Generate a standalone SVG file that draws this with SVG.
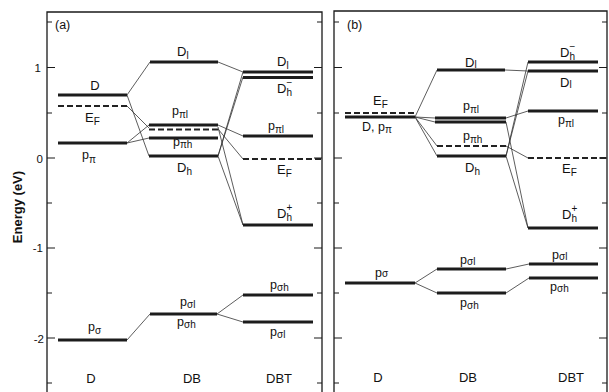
<svg xmlns="http://www.w3.org/2000/svg" width="609" height="392" viewBox="0 0 609 392">
<style>
.lv{stroke:#1c1c1c;stroke-width:3;fill:none}
.ef{stroke:#222;stroke-width:2.2;stroke-dasharray:6 3;fill:none}
.cn{stroke:#333;stroke-width:0.8;fill:none}
.fr{stroke:#1a1a1a;stroke-width:1.3;fill:none}
.tk{stroke:#1a1a1a;stroke-width:1.1;fill:none}
text{font-family:"Liberation Sans",Arial,Helvetica,sans-serif;fill:#111}
.lb{font-size:13px}
.pl{font-size:12.5px}
.sb{font-size:10px}
.ax{font-size:11.5px}
.yl{font-size:13px;font-weight:bold}
.cat{font-size:13px;text-anchor:middle}
</style>
<rect width="609" height="392" fill="#fff"/>
<g id="frames">
<path class="fr" d="M47,400V12H322V400"/>
<path class="fr" d="M334,400V11H607V400"/>
<path class="tk" d="M47,22h5M47,67.5h8M47,113h5M47,158h8M47,203h5M47,248h8M47,293h5M47,338h8M47,383h5"/>
<path class="tk" d="M322,22h-5M322,67.5h-8M322,113h-5M322,158h-8M322,203h-5M322,248h-8M322,293h-5M322,338h-8M322,383h-5"/>
<path class="tk" d="M334,22h5M334,67.5h8M334,113h5M334,158h8M334,203h5M334,248h8M334,293h5M334,338h8M334,383h5"/>
<path class="tk" d="M607,22h-5M607,67.5h-8M607,113h-5M607,158h-8M607,203h-5M607,248h-8M607,293h-5M607,338h-8M607,383h-5"/>
<text class="ax" x="41" y="72" text-anchor="end">1</text>
<text class="ax" x="43" y="163" text-anchor="end">0</text>
<text class="ax" x="43" y="252" text-anchor="end">-1</text>
<text class="ax" x="44" y="343" text-anchor="end">-2</text>
<text class="yl" transform="translate(22,207) rotate(-90)" text-anchor="middle">Energy (eV)</text>
<text x="55" y="29" font-size="12.5">(a)</text>
<text x="347" y="29" font-size="12.5">(b)</text>
<text class="cat" x="91" y="383">D</text>
<text class="cat" x="192" y="383">DB</text>
<text class="cat" x="279" y="383">DBT</text>
<text class="cat" x="378" y="382">D</text>
<text class="cat" x="468" y="382">DB</text>
<text class="cat" x="571" y="382">DBT</text>
</g>
<g id="connectors">
<path class="cn" d="M127,95L150,62M127,95L149,156M127,106L149,128M127,143L149,125M127,143L149,138"/>
<path class="cn" d="M218,62L243,72M218,156L243,72M218,156L243,77M218,125L243,136M218,129L243,159M218,127L243,225M218,156L243,225"/>
<path class="cn" d="M127,340L150,314M217,314L243,295M217,314L243,322"/>
<path class="cn" d="M415,117L437,70M415,117L435,118M415,117L435,122M415,117L437,146M415,117L437,156"/>
<path class="cn" d="M505,70L528,71M506,156L528,62M506,156L528,71M506,118L528,111M506,146L528,158M506,122L528,228M506,156L528,228"/>
<path class="cn" d="M415,283L437,269M415,283L437,293M506,269L529,264M506,293L529,278"/>
</g>
<g id="a-D">
<path class="lv" d="M58,95H127"/>
<text class="lb" x="95" y="90" text-anchor="middle">D</text>
</g>
<g id="a-EF">
<path class="ef" d="M58,106H127"/>
<text class="lb" x="85" y="122">E<tspan class="sb" dy="3">F</tspan></text>
</g>
<g id="a-ppi">
<path class="lv" d="M58,143H127"/>
<text class="pl" x="82" y="159">p<tspan class="sb" dy="4" font-size="11">π</tspan></text>
</g>
<g id="a-psigma">
<path class="lv" d="M58,340H127"/>
<text class="pl" x="88" y="331">p<tspan class="sb" dy="3" font-size="11">σ</tspan></text>
</g>
<g id="a-DB-Dl">
<path class="lv" d="M150,62H218"/>
<text class="lb" x="177" y="56">D<tspan class="sb" dy="3">l</tspan></text>
</g>
<g id="a-DB-ppil">
<path class="lv" d="M149,125H218"/>
<text class="pl" x="172" y="115">p<tspan class="sb" dy="3">πl</tspan></text>
</g>
<g id="a-DB-EF">
<path class="ef" d="M149,129.5H218"/>
</g>
<g id="a-DB-ppih">
<path class="lv" d="M149,138H218"/>
<text class="pl" x="173" y="146">p<tspan class="sb" dy="2">πh</tspan></text>
</g>
<g id="a-DB-Dh">
<path class="lv" d="M149,156H218"/>
<text class="lb" x="177" y="172">D<tspan class="sb" dy="3">h</tspan></text>
</g>
<g id="a-DB-psigma">
<path class="lv" d="M150,314H217"/>
<text class="pl" x="180" y="306">p<tspan class="sb" dy="2">σl</tspan></text>
<text class="pl" x="177" y="326">p<tspan class="sb" dy="2">σh</tspan></text>
</g>
<g id="a-DBT-Dl">
<path class="lv" d="M243,72H313"/>
<text class="lb" x="277" y="66">D<tspan class="sb" dy="3">l</tspan></text>
</g>
<g id="a-DBT-Dhm">
<path class="lv" d="M243,77.5H313"/>
<text class="lb" x="277" y="93">D<tspan class="sb" dy="-7">−</tspan><tspan class="sb" dx="-5.8" dy="10">h</tspan></text>
</g>
<g id="a-DBT-ppil">
<path class="lv" d="M243,136H313"/>
<text class="pl" x="268" y="130">p<tspan class="sb" dy="3">πl</tspan></text>
</g>
<g id="a-DBT-EF">
<path class="ef" d="M243,159H322"/>
<text class="lb" x="277" y="174">E<tspan class="sb" dy="3">F</tspan></text>
</g>
<g id="a-DBT-Dhp">
<path class="lv" d="M243,225H313"/>
<text class="lb" x="277" y="218">D<tspan class="sb" dy="-7">+</tspan><tspan class="sb" dx="-5.8" dy="10">h</tspan></text>
</g>
<g id="a-DBT-psigmah">
<path class="lv" d="M243,295H313"/>
<text class="pl" x="270" y="289">p<tspan class="sb" dy="2">σh</tspan></text>
</g>
<g id="a-DBT-psigmal">
<path class="lv" d="M243,322H313"/>
<text class="pl" x="270" y="336">p<tspan class="sb" dy="2">σl</tspan></text>
</g>
<g id="b-EF">
<path class="ef" d="M345,113H415"/>
<text class="lb" x="373" y="105">E<tspan class="sb" dy="3">F</tspan></text>
</g>
<g id="b-Dppi">
<path class="lv" d="M345,117H415"/>
<text class="pl" x="362" y="131">D, p<tspan class="sb" dy="2" font-size="11">π</tspan></text>
</g>
<g id="b-psigma">
<path class="lv" d="M345,283H415"/>
<text class="pl" x="375" y="277">p<tspan class="sb" font-size="11">σ</tspan></text>
</g>
<g id="b-DB-Dl">
<path class="lv" d="M437,70H505"/>
<text class="lb" x="465" y="67">D<tspan class="sb" dy="1">l</tspan></text>
</g>
<g id="b-DB-ppil">
<path class="lv" d="M435,118H506"/>
<path class="lv" d="M435,122H506"/>
<text class="pl" x="463" y="110">p<tspan class="sb" dy="3">πl</tspan></text>
</g>
<g id="b-DB-EF">
<path class="ef" d="M437,146H506"/>
<text class="pl" x="463" y="140">p<tspan class="sb" dy="3">πh</tspan></text>
</g>
<g id="b-DB-Dh">
<path class="lv" d="M437,156H506"/>
<text class="lb" x="465" y="172">D<tspan class="sb" dy="3">h</tspan></text>
</g>
<g id="b-DB-psigmal">
<path class="lv" d="M437,269H506"/>
<text class="pl" x="460" y="264">p<tspan class="sb" dy="1">σl</tspan></text>
</g>
<g id="b-DB-psigmah">
<path class="lv" d="M437,293H506"/>
<text class="pl" x="460" y="307">p<tspan class="sb" dy="2">σh</tspan></text>
</g>
<g id="b-DBT-Dhm">
<path class="lv" d="M528,62H598"/>
<text class="lb" x="560" y="57">D<tspan class="sb" dy="-7">−</tspan><tspan class="sb" dx="-5.8" dy="10">h</tspan></text>
</g>
<g id="b-DBT-Dl">
<path class="lv" d="M528,71H598"/>
<text class="lb" x="560" y="87">D<tspan class="sb" dy="1">l</tspan></text>
</g>
<g id="b-DBT-ppil">
<path class="lv" d="M528,111H598"/>
<text class="pl" x="558" y="124">p<tspan class="sb" dy="3">πl</tspan></text>
</g>
<g id="b-DBT-EF">
<path class="ef" d="M528,158H607"/>
<text class="lb" x="562" y="173">E<tspan class="sb" dy="3">F</tspan></text>
</g>
<g id="b-DBT-Dhp">
<path class="lv" d="M528,228H598"/>
<text class="lb" x="562" y="219">D<tspan class="sb" dy="-7">+</tspan><tspan class="sb" dx="-5.8" dy="10">h</tspan></text>
</g>
<g id="b-DBT-psigmal">
<path class="lv" d="M529,264H598"/>
<text class="pl" x="552" y="259">p<tspan class="sb" dy="1">σl</tspan></text>
</g>
<g id="b-DBT-psigmah">
<path class="lv" d="M529,278H598"/>
<text class="pl" x="550" y="291">p<tspan class="sb" dy="1">σh</tspan></text>
</g>
</svg>
